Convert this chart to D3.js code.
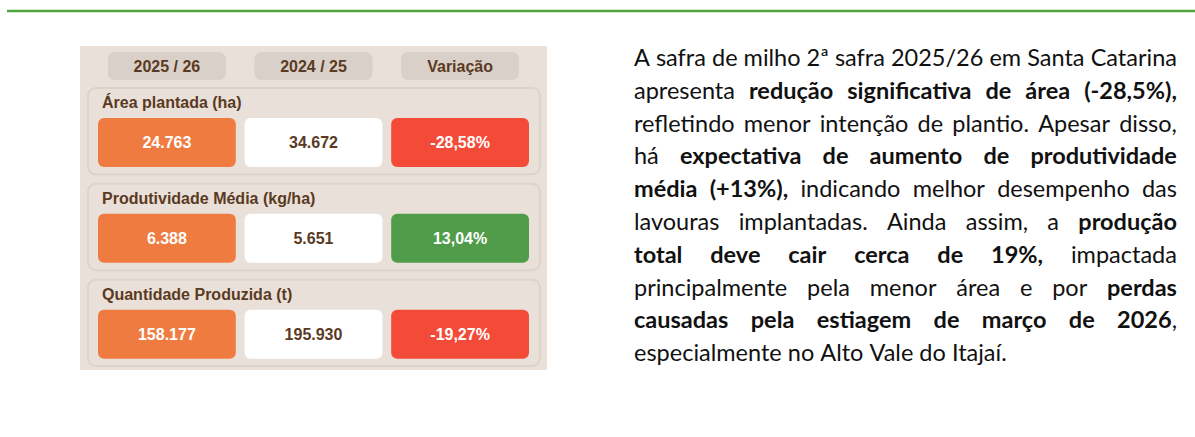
<!DOCTYPE html>
<html>
<head>
<meta charset="utf-8">
<script src="https://cdn.jsdelivr.net/npm/d3@7"></script>
<style>
  html, body { margin: 0; padding: 0; background: #ffffff; overflow: hidden; }
</style>
</head>
<body>
<div id="chart"></div>
<script>
////////////////////////////////////////////////////////////////////////
//
// Data -- milho 2a safra, Santa Catarina
//
////////////////////////////////////////////////////////////////////////
var periodos    = ["2025 / 26", "2024 / 25", "Variação"];
var indicadores = ["Área plantada (ha)", "Produtividade Média (kg/ha)", "Quantidade Produzida (t)"];
var safra2526   = [24763, 6388, 158177];
var safra2425   = [34672, 5651, 195930];
var variacao    = [-28.58, 13.04, -19.27];

// paragraph lines, each run is [text, bold]
var texto = [
    [["A safra de milho 2ª safra 2025/26 em Santa Catarina", 0]],
    [["apresenta ", 0], ["redução significativa de área (-28,5%),", 1]],
    [["refletindo menor intenção de plantio. Apesar disso,", 0]],
    [["há ", 0], ["expectativa de aumento de produtividade", 1]],
    [["média (+13%),", 1], [" indicando melhor desempenho das", 0]],
    [["lavouras implantadas. Ainda assim, a ", 0], ["produção", 1]],
    [["total deve cair cerca de 19%,", 1], [" impactada", 0]],
    [["principalmente pela menor área e por ", 0], ["perdas", 1]],
    [["causadas pela estiagem de março de 2026", 1], [",", 0]],
    [["especialmente no Alto Vale do Itajaí.", 0]]
    ];


////////////////////////////////////////////////////////////////////////
//
// Setup
//
////////////////////////////////////////////////////////////////////////
var width = 1195;
var height = 437;

var brown  = "#5b3a23";
var orange = "#ef7b41";
var red    = "#f44b38";
var green  = "#509c4b";

var ptBR = d3.formatLocale({decimal: ",", thousands: ".", grouping: [3], currency: ["", ""], minus: "-"});
var fmtInt = ptBR.format(",.0f");
var fmtPct = function(v) { return ptBR.format(",.2f")(v) + "%"; };

var svg = d3.select("#chart")
    .append("svg")
    .attr("width", width)
    .attr("height", height)
    .style("display", "block");

// top rule
svg.append("line")
    .attr("x1", 7).attr("x2", width)
    .attr("y1", 11).attr("y2", 11)
    .attr("stroke", "#52a53a")
    .attr("stroke-width", 2.5);

drawTable();
drawParagraph();


////////////////////////////////////////////////////////////////////////
//
// Left table with the three indicators
//
////////////////////////////////////////////////////////////////////////
function drawTable()
    {
    var x = d3.scaleBand().domain(periodos).range([98, 529]).paddingInner(0.06);
    var y = d3.scaleBand().domain(indicadores).range([88, 366]).paddingInner(0.1);

    var font = "'Liberation Sans', Arial, sans-serif";

    svg.append("rect")
        .attr("x", 80).attr("y", 46)
        .attr("width", 467).attr("height", 324)
        .attr("fill", "#e9e1d9");

    // header pills
    var head = svg.selectAll("g.head")
        .data(periodos)
        .enter()
        .append("g")
        .attr("class", "head")
        .attr("transform", function(d) { return "translate(" + (x(d) + x.bandwidth() / 2) + ",0)"; });

    head.append("rect")
        .attr("x", -59).attr("y", 52)
        .attr("width", 118).attr("height", 28)
        .attr("rx", 7)
        .attr("fill", "#d9d0c9");

    head.append("text")
        .attr("y", 72)
        .attr("text-anchor", "middle")
        .style("font", "bold 16px " + font)
        .attr("fill", brown)
        .text(function(d) { return d; });

    // indicator groups
    var grp = svg.selectAll("g.grp")
        .data(indicadores)
        .enter()
        .append("g")
        .attr("class", "grp")
        .attr("transform", function(d) { return "translate(0," + y(d) + ")"; });

    grp.append("rect")
        .attr("x", 88).attr("y", 0)
        .attr("width", 452).attr("height", y.bandwidth())
        .attr("rx", 8)
        .attr("fill", "#e9e1d9")
        .attr("stroke", "#ddd3c9")
        .attr("stroke-width", 2);

    grp.append("text")
        .attr("x", 102).attr("y", 20)
        .style("font", "bold 16px " + font)
        .attr("fill", brown)
        .text(function(d) { return d; });

    var cells = grp.selectAll("g.cell")
        .data(function(d, i)
            {
            return [
                {col: periodos[0], txt: fmtInt(safra2526[i]), fill: orange, color: "#ffffff"},
                {col: periodos[1], txt: fmtInt(safra2425[i]), fill: "#ffffff", color: brown},
                {col: periodos[2], txt: fmtPct(variacao[i]), fill: variacao[i] < 0 ? red : green, color: "#ffffff"}
                ];
            })
        .enter()
        .append("g")
        .attr("class", "cell");

    cells.append("rect")
        .attr("x", function(d) { return x(d.col); })
        .attr("y", 30)
        .attr("width", x.bandwidth())
        .attr("height", 49)
        .attr("rx", 6)
        .attr("fill", function(d) { return d.fill; });

    cells.append("text")
        .attr("x", function(d) { return x(d.col) + x.bandwidth() / 2; })
        .attr("y", 60)
        .attr("text-anchor", "middle")
        .style("font", "bold 16px " + font)
        .attr("fill", function(d) { return d.color; })
        .text(function(d) { return d.txt; });
    }


////////////////////////////////////////////////////////////////////////
//
// Right justified paragraph, laid out word by word
//
////////////////////////////////////////////////////////////////////////
function drawParagraph()
    {
    var left = 634, right = 1177;
    var top = 66, lineStep = 32.8;
    var baseSize = 24;
    var family = "Lato, 'Noto Sans', sans-serif";

    var g = svg.append("g")
        .style("font-family", family)
        .attr("fill", "#111111");

    // split runs into words; a run glued to the previous one (no space between) joins its word
    var lines = texto.map(function(runs)
        {
        var words = [];
        var glued = false;
        runs.forEach(function(run)
            {
            var parts = run[0].split(" ");
            parts.forEach(function(p, k)
                {
                if(p === "") return;
                if(k === 0 && glued && words.length > 0)
                    {
                    words[words.length - 1].push([p, run[1]]);
                    }
                else
                    {
                    words.push([[p, run[1]]]);
                    }
                });
            glued = run[0][run[0].length - 1] !== " ";
            });
        return words;
        });

    var nodes = lines.map(function(words, li)
        {
        return words.map(function(w)
            {
            var t = g.append("text")
                .attr("y", top + li * lineStep)
                .style("font-size", baseSize + "px");
            w.forEach(function(r)
                {
                t.append("tspan")
                    .style("font-weight", r[1] ? 700 : 400)
                    .text(r[0]);
                });
            return t;
            });
        });

    // space width
    var probe = g.append("text").style("font-size", baseSize + "px").text("x x");
    var probe2 = g.append("text").style("font-size", baseSize + "px").text("xx");
    var space = probe.node().getComputedTextLength() - probe2.node().getComputedTextLength();
    probe.remove();
    probe2.remove();

    var widths = nodes.map(function(row)
        {
        return row.map(function(t) { return t.node().getComputedTextLength(); });
        });

    var natural = widths.map(function(row) { return d3.sum(row) + space * (row.length - 1); });
    var scale = d3.min(natural, function(n) { return (right - left) / n; });
    var size = baseSize * scale;

    nodes.forEach(function(row, li)
        {
        var ws = widths[li].map(function(w) { return w * scale; });
        var gap = space * scale;
        if(li < nodes.length - 1 && row.length > 1)
            {
            gap = (right - left - d3.sum(ws)) / (row.length - 1);
            }
        var cx = left;
        row.forEach(function(t, k)
            {
            t.style("font-size", size + "px").attr("x", cx);
            cx += ws[k] + gap;
            });
        });
    }
</script>
</body>
</html>
